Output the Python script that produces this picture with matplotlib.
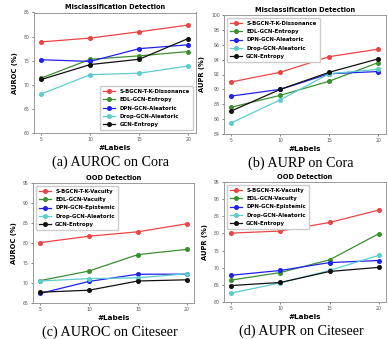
import matplotlib
matplotlib.use("Agg")
import matplotlib.pyplot as plt

W, H = 388, 339

labels = [5, 10, 15, 20]

# (a) AUROC on Cora - misclassification
a_sbgcn = [78.9, 79.7, 81.0, 82.4]
a_edl = [71.4, 75.3, 76.0, 76.9]
a_dpn = [75.2, 74.85, 77.5, 78.3]
a_drop = [68.1, 72.1, 72.4, 73.9]
a_gcn = [71.1, 74.2, 75.3, 79.6]

# (b) AUPR on Cora - misclassification
b_sbgcn = [91.0, 92.3, 94.4, 95.4]
b_edl = [87.6, 89.2, 91.1, 93.6]
b_dpn = [89.1, 90.0, 92.1, 92.4]
b_drop = [85.5, 88.6, 92.1, 92.7]
b_gcn = [87.1, 90.0, 92.3, 94.1]

# (c) AUROC on Citeseer - OOD
c_sbgcn = [80.1, 81.7, 82.8, 84.8]
c_edl = [70.6, 73.0, 77.1, 78.4]
c_dpn = [67.4, 70.4, 72.2, 72.2]
c_drop = [70.5, 71.1, 71.3, 72.3]
c_gcn = [67.7, 68.2, 70.5, 70.8]

# (d) AUPR on Citeseer - OOD
d_sbgcn = [80.1, 80.7, 83.2, 86.8]
d_edl = [66.4, 68.6, 72.3, 79.9]
d_dpn = [67.8, 69.2, 71.5, 72.1]
d_drop = [62.6, 65.6, 69.2, 73.6]
d_gcn = [64.8, 65.7, 68.9, 70.1]

mis_names = ["S-BGCN-T-K-Dissonance", "EDL-GCN-Entropy", "DPN-GCN-Aleatoric",
             "Drop-GCN-Aleatoric", "GCN-Entropy"]
ood_names = ["S-BGCN-T-K-Vacuity", "EDL-GCN-Vacuity", "DPN-GCN-Epistemic",
             "Drop-GCN-Aleatoric", "GCN-Entropy"]
colors = ["#ec4444", "#3c8f30", "#2020f0", "#5ccccc", "#111111"]

panels = [
    # rect in pixels: left, right, top, bottom
    ((34, 195.5, 12.5, 133), [a_sbgcn, a_edl, a_dpn, a_drop, a_gcn], mis_names,
     "Misclassification Detection", "AUROC (%)", (60, 85), range(60, 86, 5),
     "lower right", "(a) AUROC on Cora"),
    ((224, 385.5, 15, 134), [b_sbgcn, b_edl, b_dpn, b_drop, b_gcn], mis_names,
     "Misclassification Detection", "AUPR (%)", (84, 100), range(84, 101, 2),
     "upper left", "(b) AURP on Cora"),
    ((33, 194, 183, 303), [c_sbgcn, c_edl, c_dpn, c_drop, c_gcn], ood_names,
     "OOD Detection", "AUROC (%)", (65, 95), range(65, 96, 5),
     "upper left", "(c) AUROC on Citeseer"),
    ((224, 386, 182, 302), [d_sbgcn, d_edl, d_dpn, d_drop, d_gcn], ood_names,
     "OOD Detection", "AUPR (%)", (60, 95), range(60, 96, 5),
     "upper left", "(d) AUPR on Citeseer"),
]

fig = plt.figure(figsize=(W / 100, H / 100), dpi=100)

for rect, series, names, title, ylab, ylim, yticks, loc, caption in panels:
    l, r, t, b = rect
    ax = fig.add_axes([l / W, 1 - b / H, (r - l) / W, (b - t) / H])
    for vals, name, col in zip(series, names, colors):
        ax.plot(labels, vals, "-o", color=col, lw=0.9, ms=2.6, label=name)
    ax.set_ylim(*ylim)
    ax.set_yticks(list(yticks))
    ax.set_xticks(labels)
    ax.tick_params(labelsize=3.3, colors="#555555", length=1.5, width=0.5, pad=1.5)
    for s in ax.spines.values():
        s.set_color("#999999")
        s.set_linewidth(0.7)
    ax.set_title(title, fontsize=4.8, fontweight="bold", pad=2.5)
    ax.set_ylabel(ylab, fontsize=4.9, fontweight="bold", labelpad=4.5)
    ax.set_xlabel("#Labels", fontsize=5.2, fontweight="bold", labelpad=2)
    ax.legend(loc=loc, prop={"size": 3.9, "weight": "bold"}, handlelength=2.2,
              labelspacing=0.6, borderpad=0.6, framealpha=1, edgecolor="#cccccc")
    fig.text(((l + r) / 2 - 4) / W, 1 - (b + 29) / H, caption, ha="center",
             va="center", fontsize=10.2, family="Liberation Serif")

fig.savefig("out.png", dpi=100)
